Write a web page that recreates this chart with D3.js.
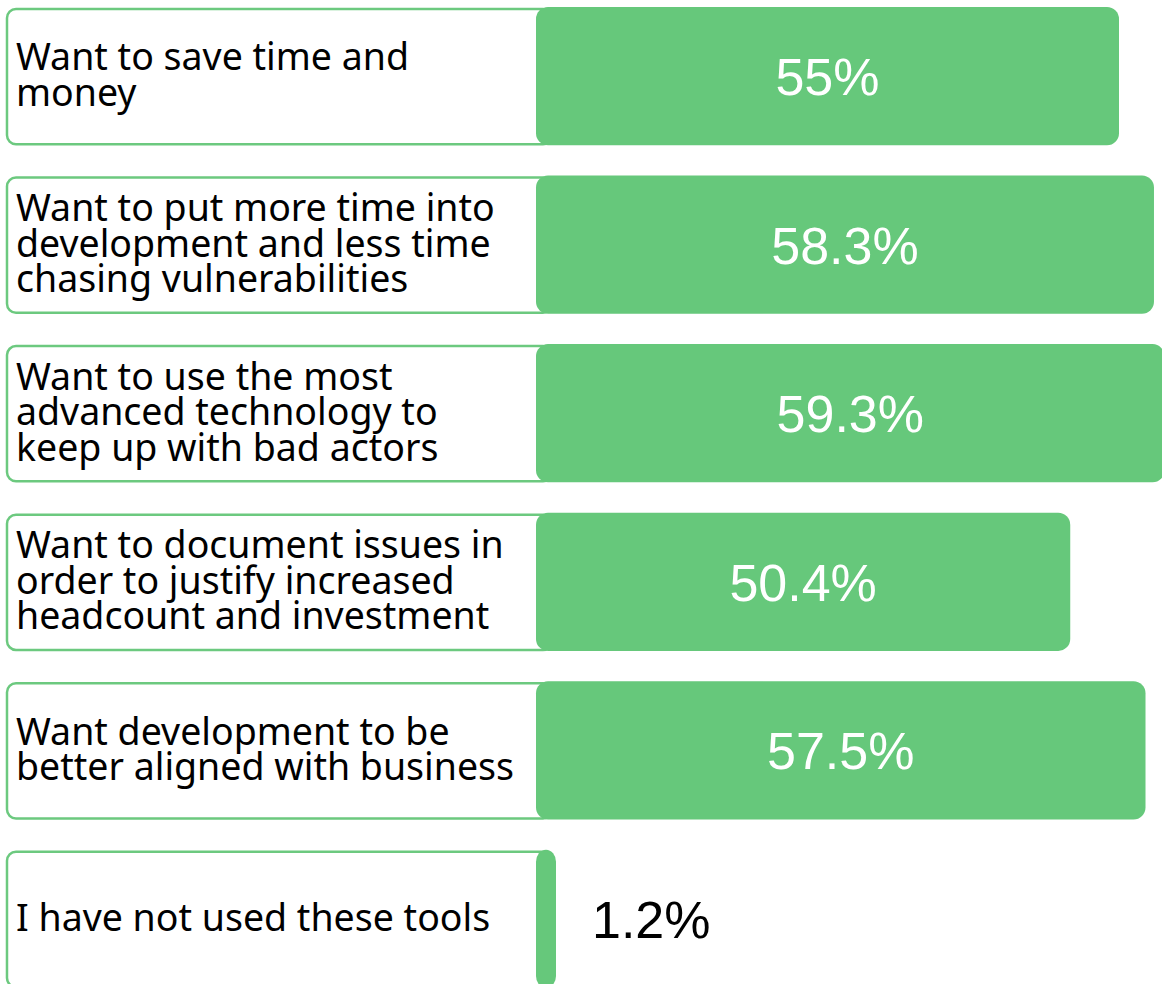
<!DOCTYPE html>
<html lang="en"><head><meta charset="utf-8">
<title>Reasons</title>
<script src="https://cdn.jsdelivr.net/npm/d3@7/dist/d3.min.js"></script>
<style>
  body { margin: 0; background: #fff; }
</style>
</head>
<body>
<script>
    // survey answers, one row per reason
    var labels = [
        ["Want to save time and", "money"],
        ["Want to put more time into", "development and less time", "chasing vulnerabilities"],
        ["Want to use the most", "advanced technology to", "keep up with bad actors"],
        ["Want to document issues in", "order to justify increased", "headcount and investment"],
        ["Want development to be", "better aligned with business"],
        ["I have not used these tools"]
    ];
    var values = [55, 58.3, 59.3, 50.4, 57.5, 1.2];
    var valueLabels = ["55%", "58.3%", "59.3%", "50.4%", "57.5%", "1.2%"];

    var width = 1162;
    var height = 984;
    var green = "#66c87b";
    var barLeft = 536;

    var rows = d3.range(values.length);

    var y = d3.scaleBand().domain(rows).range([7, 988]).paddingInner(0.18).paddingOuter(0);
    var x = d3.scaleLinear().domain([0, 10]).range([0, 106]);

    var svg = d3.select("body").append("svg")
        .attr("width", width)
        .attr("height", height);

    var row = svg.selectAll(".row")
        .data(rows)
        .enter().append("g")
        .attr("class", "row")
        .attr("transform", function (i) { return "translate(0," + y(i) + ")"; });

    // white label box with green border
    row.append("rect")
        .attr("x", 7)
        .attr("y", 2)
        .attr("width", 545)
        .attr("height", y.bandwidth() - 3)
        .attr("rx", 9)
        .attr("fill", "#fff")
        .attr("stroke", "#6cc97f")
        .attr("stroke-width", 2.5);

    var lineH = 35.5;
    row.append("text")
        .attr("font-family", "'Noto Sans', sans-serif")
        .attr("font-size", 37.5)
        .attr("fill", "#000")
        .each(function (i) {
            var lines = labels[i];
            var top = y.bandwidth() / 2 - (lines.length - 1) * lineH / 2 + 12;
            d3.select(this).selectAll("tspan")
                .data(lines)
                .enter().append("tspan")
                .attr("x", 16)
                .attr("y", function (d, k) { return top + k * lineH; })
                .text(function (d) { return d; });
        });

    // bars (tiny values get a minimum sliver so the rounded end shows)
    row.append("rect")
        .attr("x", barLeft)
        .attr("y", 0)
        .attr("width", function (i) { return Math.max(x(values[i]), 20); })
        .attr("height", y.bandwidth())
        .attr("rx", 12)
        .attr("fill", green);

    row.append("text")
        .attr("font-family", "'Liberation Sans', Arial, sans-serif")
        .attr("font-size", 52)
        .attr("dominant-baseline", "central")
        .attr("y", y.bandwidth() / 2 + 1)
        .attr("x", function (i) {
            var w = Math.max(x(values[i]), 20);
            return w < 100 ? barLeft + w + 36 : barLeft + w / 2;
        })
        .attr("text-anchor", function (i) { return x(values[i]) < 100 ? "start" : "middle"; })
        .attr("fill", function (i) { return x(values[i]) < 100 ? "#000" : "#fff"; })
        .text(function (i) { return valueLabels[i]; });
</script>
</body></html>
